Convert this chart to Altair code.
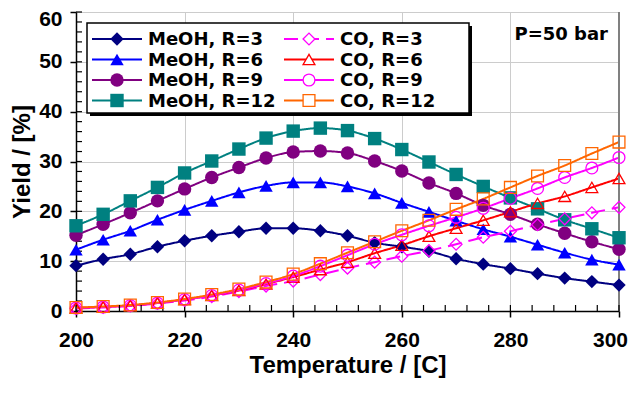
import altair as alt
import pandas as pd

temps = list(range(200, 301, 5))

meoh_r3 = [9.1, 10.4, 11.4, 12.9, 14.1, 15.1, 15.9, 16.6, 16.6, 16.1, 15.1, 13.7, 12.9, 12.0, 10.5, 9.4, 8.5, 7.5, 6.6, 5.9, 5.2]
meoh_r6 = [12.3, 14.3, 16.1, 18.3, 20.3, 22.1, 23.8, 25.1, 25.8, 25.8, 25.0, 23.6, 21.7, 19.9, 18.1, 16.4, 14.9, 13.3, 11.7, 10.3, 9.3]
meoh_r9 = [15.2, 17.4, 19.7, 22.1, 24.5, 26.8, 28.8, 30.7, 31.9, 32.1, 31.7, 30.1, 28.1, 25.7, 23.6, 21.2, 19.4, 17.4, 15.6, 13.9, 12.4]
meoh_r12 = [17.1, 19.4, 22.1, 24.8, 27.7, 30.1, 32.5, 34.7, 36.1, 36.7, 36.2, 34.6, 32.4, 29.9, 27.4, 25.0, 22.7, 20.5, 18.3, 16.5, 14.7]
co_r3 = [0.5, 0.7, 1.0, 1.5, 2.1, 2.9, 3.9, 5.0, 6.0, 7.3, 8.6, 9.8, 11.0, 12.1, 13.4, 14.8, 16.0, 17.3, 18.5, 19.7, 20.8]
co_r6 = [0.6, 0.8, 1.1, 1.6, 2.3, 3.1, 4.1, 5.4, 6.8, 8.3, 9.8, 11.6, 13.2, 15.0, 16.6, 18.2, 19.9, 21.6, 23.0, 24.8, 26.6]
co_r9 = [0.6, 0.8, 1.1, 1.6, 2.3, 3.1, 4.2, 5.5, 7.0, 9.0, 11.2, 13.4, 15.3, 17.1, 18.8, 20.6, 22.6, 24.6, 26.8, 28.7, 30.8]
co_r12 = [0.7, 0.9, 1.2, 1.7, 2.4, 3.3, 4.4, 5.8, 7.4, 9.5, 11.7, 13.9, 16.1, 18.2, 20.4, 22.5, 24.8, 27.1, 29.2, 31.6, 33.9]

series_names = ["MeOH, R=3", "MeOH, R=6", "MeOH, R=9", "MeOH, R=12",
                "CO, R=3", "CO, R=6", "CO, R=9", "CO, R=12"]
series_values = [meoh_r3, meoh_r6, meoh_r9, meoh_r12, co_r3, co_r6, co_r9, co_r12]
series_colors = ["#000080", "#0000FF", "#800080", "#008080",
                 "#FF00FF", "#FF0000", "#FF00FF", "#FF6600"]
series_shapes = ["diamond", "triangle-up", "circle", "square",
                 "diamond", "triangle-up", "circle", "square"]
series_filled = [True, True, True, True, False, False, False, False]
series_dash = [[1, 0], [1, 0], [1, 0], [1, 0], [14, 7], [1, 0], [1, 0], [1, 0]]

x_major = [200, 220, 240, 260, 280, 300]
x_minor = list(range(200, 301, 4))
y_major = [0, 10, 20, 30, 40, 50, 60]
y_minor = list(range(0, 61, 2))

W, H = 543, 299
AX_FONT = "Liberation Sans"
LG_FONT = "DejaVu Sans"

rows = []
for name, vals in zip(series_names, series_values):
    for t, v in zip(temps, vals):
        rows.append({"T": t, "Y": v, "series": name})
df = pd.DataFrame(rows)

xscale = alt.Scale(domain=[200, 300], nice=False, zero=False)
yscale = alt.Scale(domain=[0, 60], nice=False)
cscale = alt.Scale(domain=series_names, range=series_colors)
sscale = alt.Scale(domain=series_names, range=series_shapes)
dscale = alt.Scale(domain=series_names, range=series_dash)

xaxis = alt.Axis(values=x_major, format="d", grid=True, gridColor="#cccccc", gridWidth=1,
                 domainColor="black", domainWidth=1.5, tickColor="black", tickSize=6, tickWidth=1.5,
                 labelFont=AX_FONT, labelFontSize=21, labelFontWeight="bold", labelColor="black",
                 labelPadding=12, labelFlush=False,
                 labelOffset=alt.condition("datum.value == 300", alt.value(-9), alt.value(0)),
                 title="Temperature / [C]", titleFont=AX_FONT, titleFontSize=24, titleFontWeight="bold",
                 titleColor="black", titlePadding=3)
yaxis = alt.Axis(values=y_major, format="d", grid=True, gridColor="#cccccc", gridWidth=1,
                 domainColor="black", domainWidth=1.5, tickColor="black", tickSize=6, tickWidth=1.5,
                 labelFont=AX_FONT, labelFontSize=21, labelFontWeight="bold", labelColor="black",
                 labelPadding=8, labelFlush=False,
                 labelOffset=alt.condition("datum.value == 60", alt.value(7), alt.value(0)),
                 title="Yield / [%]", titleFont=AX_FONT, titleFontSize=24, titleFontWeight="bold",
                 titleColor="black", titlePadding=4)

X = alt.X("T:Q", scale=xscale, axis=xaxis)
Y = alt.Y("Y:Q", scale=yscale, axis=yaxis)

base = alt.Chart(df)

lines = base.mark_line(strokeWidth=2, interpolate="monotone").encode(
    x=X, y=Y,
    color=alt.Color("series:N", scale=cscale, legend=None),
    strokeDash=alt.StrokeDash("series:N", scale=dscale, legend=None),
    detail="series:N",
)

meoh_names = series_names[:4]
co_names = series_names[4:]

pts_filled = base.transform_filter(
    alt.FieldOneOfPredicate(field="series", oneOf=meoh_names)
).mark_point(filled=True, size=180, opacity=1).encode(
    x=X, y=Y,
    color=alt.Color("series:N", scale=cscale, legend=None),
    shape=alt.Shape("series:N", scale=sscale, legend=None),
)
pts_open = base.transform_filter(
    alt.FieldOneOfPredicate(field="series", oneOf=co_names)
).mark_point(filled=False, size=140, strokeWidth=1.3, opacity=1).encode(
    x=X, y=Y,
    color=alt.Color("series:N", scale=cscale, legend=None),
    shape=alt.Shape("series:N", scale=sscale, legend=None),
)

# inner tick marks (ticks pointing into the plot)
ytick_df = pd.DataFrame({"Y": y_minor})
ytick_in = alt.Chart(ytick_df).mark_rule(color="black", strokeWidth=1.2).encode(
    y=Y, x=alt.value(0), x2=alt.value(6))
xtick_df = pd.DataFrame({"T": x_minor})
xtick_in = alt.Chart(xtick_df).mark_rule(color="black", strokeWidth=1.2).encode(
    x=X, y=alt.value(H), y2=alt.value(H - 6))

right_df = pd.DataFrame({"T": [300]})
right_line = alt.Chart(right_df).mark_rule(color="#808080", strokeWidth=2).encode(
    x=X, y=alt.value(0), y2=alt.value(H))

one = pd.DataFrame({"k": [0]})

legend_layers = []
legend_layers.append(alt.Chart(one).mark_rect(color="black").encode(
    x=alt.value(14), x2=alt.value(396), y=alt.value(14), y2=alt.value(104)))
legend_layers.append(alt.Chart(one).mark_rect(fill="white", stroke="black", strokeWidth=1.5).encode(
    x=alt.value(11), x2=alt.value(393), y=alt.value(11), y2=alt.value(101)))

for i, name in enumerate(series_names):
    col = i // 4
    row = i % 4
    ly = 27 + 20.5 * row
    lx0 = 16 if col == 0 else 208
    color = series_colors[i]
    dash = series_dash[i]
    legend_layers.append(alt.Chart(one).mark_rule(color=color, strokeWidth=2, strokeDash=dash).encode(
        x=alt.value(lx0), x2=alt.value(lx0 + 50), y=alt.value(ly)))
    if series_filled[i]:
        legend_layers.append(alt.Chart(one).mark_point(
            filled=True, size=180, shape=series_shapes[i], color=color, opacity=1).encode(
            x=alt.value(lx0 + 25), y=alt.value(ly)))
    else:
        legend_layers.append(alt.Chart(one).mark_point(
            filled=True, size=140, shape=series_shapes[i], color="white", opacity=1).encode(
            x=alt.value(lx0 + 25), y=alt.value(ly)))
        legend_layers.append(alt.Chart(one).mark_point(
            filled=False, size=140, shape=series_shapes[i], color=color, strokeWidth=1.3, opacity=1).encode(
            x=alt.value(lx0 + 25), y=alt.value(ly)))
    legend_layers.append(alt.Chart(one).mark_text(
        align="left", baseline="middle", font=LG_FONT, fontSize=18, fontWeight="bold", color="black").encode(
        x=alt.value(lx0 + 56), y=alt.value(ly + 1), text=alt.value(name)))

pressure = alt.Chart(one).mark_text(
    align="right", baseline="middle", font=LG_FONT, fontSize=18, fontWeight="bold", color="black").encode(
    x=alt.value(532), y=alt.value(23), text=alt.value("P=50 bar"))

chart = alt.layer(
    lines, right_line, ytick_in, xtick_in, pts_filled, pts_open, *legend_layers, pressure
).properties(
    width=W, height=H,
    autosize=alt.AutoSizeParams(type="none"),
    padding={"left": 68, "top": 4, "right": 9, "bottom": 70},
).configure_view(stroke=None)

chart.save("out.html", embed_options={"renderer": "svg", "actions": False})
